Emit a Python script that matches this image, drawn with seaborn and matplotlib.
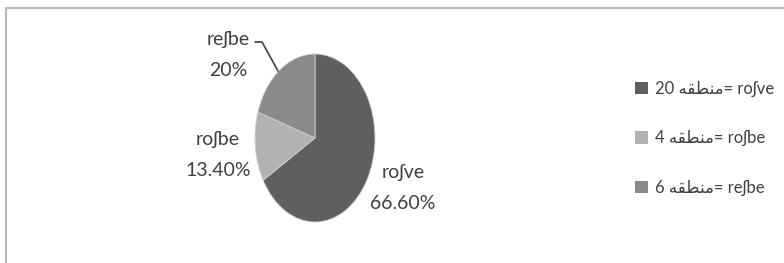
import matplotlib
matplotlib.use("Agg")
import matplotlib.pyplot as plt
from matplotlib.patches import Patch
from matplotlib.lines import Line2D
import seaborn as sns

# data
categories = ["roʃve", "roʃbe", "reʃbe"]
shares = [66.6, 13.4, 20.0]
share_labels = ["66.60%", "13.40%", "20%"]
region_counts = [20, 4, 6]
region_word = "منطقه"
colors = ["#5f5f5f", "#b2b2b2", "#8a8a8a"]

sns.set_theme(style="white")
plt.rcParams["font.family"] = ["Lato", "DejaVu Sans"]


def visual_arabic(word):
    # matplotlib has no bidi/shaping: use presentation forms, in visual order
    forms = {"م": ("\uFEE1", "\uFEE3", "\uFEE4", "\uFEE2"),
             "ن": ("\uFEE5", "\uFEE7", "\uFEE8", "\uFEE6"),
             "ط": ("\uFEC1", "\uFEC3", "\uFEC4", "\uFEC2"),
             "ق": ("\uFED5", "\uFED7", "\uFED8", "\uFED6"),
             "ه": ("\uFEE9", "\uFEEB", "\uFEEC", "\uFEEA")}
    out = []
    n = len(word)
    for i, ch in enumerate(word):
        iso, ini, med, fin = forms[ch]
        if n == 1:
            out.append(iso)
        elif i == 0:
            out.append(ini)
        elif i == n - 1:
            out.append(fin)
        else:
            out.append(med)
    return "".join(reversed(out))


W, H = 784, 263
fig = plt.figure(figsize=(W / 100, H / 100), dpi=100)

# chart border (left and top visible)
fig.add_artist(Line2D([6 / W, 6 / W], [0, 1 - 8 / H], color="#b8b8b8", lw=1.5))
fig.add_artist(Line2D([6 / W, 1], [1 - 8 / H, 1 - 8 / H], color="#b8b8b8", lw=1.5))

# elliptical pie
cx, cy, rw, rh = 315, 138, 60, 84
ax = fig.add_axes([(cx - rw) / W, 1 - (cy + rh) / H, 2 * rw / W, 2 * rh / H])
wedges, _ = ax.pie(shares, colors=colors, startangle=90, counterclock=False,
                   wedgeprops=dict(linewidth=0.6, edgecolor="#cfcfcf"))
ax.set_aspect("auto")
ax.set_xlim(-1, 1)
ax.set_ylim(-1, 1)

label_pos = [(403, 188), (218, 155), (228, 55)]
for cat, lab, (px, py) in zip(categories, share_labels, label_pos):
    fig.text(px / W, 1 - py / H, f"{cat}\n{lab}", ha="center", va="center",
             fontsize=14, color="#404040", linespacing=1.95)

# leader line for the top-left label
fig.add_artist(Line2D([255 / W, 262 / W, 278 / W],
                      [1 - 42 / H, 1 - 42 / H, 1 - 71 / H],
                      color="#404040", lw=1.2))

# legend
handles = [Patch(facecolor=c, edgecolor="none") for c in colors]
leg_labels = [f"{n} {visual_arabic(region_word)}= {cat}"
              for n, cat in zip(region_counts, categories)]
fig.legend(handles, leg_labels, loc="upper left",
           bbox_to_anchor=(620 / W, 1 - 66 / H), frameon=False,
           fontsize=12, handlelength=0.75, handleheight=0.75,
           handletextpad=0.45, labelspacing=2.0, labelcolor="#404040")

fig.savefig("out.png", dpi=100)
